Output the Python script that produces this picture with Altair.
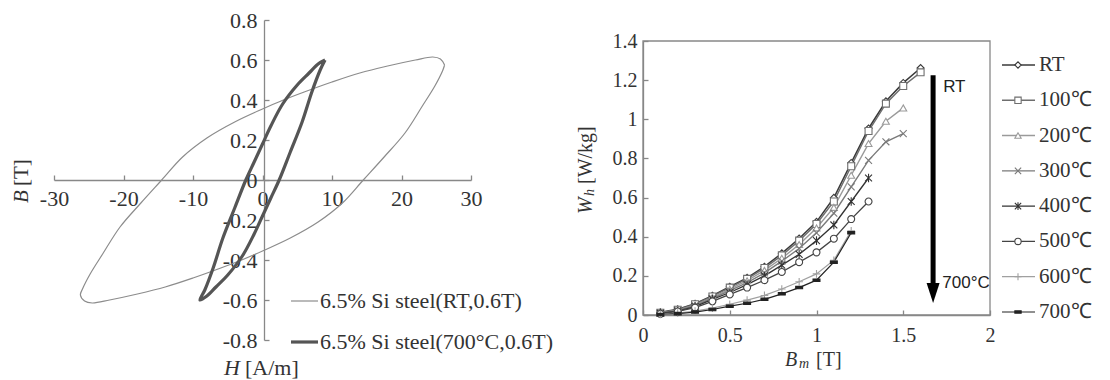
import altair as alt
import pandas as pd

# ---------------- left panel: B-H hysteresis loops ----------------
loop_names = ["6.5% Si steel(RT,0.6T)", "6.5% Si steel(700°C,0.6T)"]
rt_H = [26.2, 25.6, 24.5, 22.0, 18.0, 14.0, 10.0, 6.0, 3.0, 0.0, -4.0, -8.0, -11.5, -14.5, -17.5, -20.5, -23.0, -24.8, -25.9,
        -26.2, -25.6, -24.5, -22.0, -18.0, -14.0, -10.0, -6.0, -3.0, 0.0, 4.0, 8.0, 11.5, 14.5, 17.5, 20.5, 23.0, 24.8, 25.9, 26.2]
rt_B = [0.575, 0.605, 0.615, 0.60, 0.57, 0.535, 0.49, 0.44, 0.40, 0.355, 0.29, 0.21, 0.115, 0.0, -0.115, -0.235, -0.37, -0.47, -0.545,
        -0.575, -0.605, -0.615, -0.60, -0.57, -0.535, -0.49, -0.44, -0.40, -0.355, -0.29, -0.21, -0.115, 0.0, 0.115, 0.235, 0.37, 0.47, 0.545, 0.575]
t700_H = [9.0, 8.0, 6.7, 5.0, 2.9, 1.2, 0.0, -1.2, -2.4, -4.0, -5.7, -7.1, -8.3,
          -9.0, -8.0, -6.7, -5.0, -2.9, -1.2, 0.0, 1.2, 2.4, 4.0, 5.7, 7.1, 8.3, 9.0]
t700_B = [0.60, 0.58, 0.535, 0.475, 0.38, 0.27, 0.18, 0.09, 0.0, -0.14, -0.29, -0.44, -0.55,
          -0.60, -0.58, -0.535, -0.475, -0.38, -0.27, -0.18, -0.09, 0.0, 0.14, 0.29, 0.44, 0.55, 0.60]
h_ticks = [-30, -20, -10, 0, 10, 20, 30]
b_ticks = [-0.8, -0.6, -0.4, -0.2, 0, 0.2, 0.4, 0.6, 0.8]

# ---------------- right panel: hysteresis loss vs Bm ----------------
series = ["RT", "100℃", "200℃", "300℃", "400℃", "500℃", "600℃", "700℃"]
bm = [0.1, 0.2, 0.3, 0.4, 0.5, 0.6, 0.7, 0.8, 0.9, 1.0, 1.1, 1.2, 1.3, 1.4, 1.5, 1.6]
wh_rt = [0.014, 0.029, 0.058, 0.099, 0.145, 0.19, 0.247, 0.315, 0.391, 0.476, 0.599, 0.777, 0.953, 1.092, 1.186, 1.262]
wh_100 = [0.012, 0.027, 0.055, 0.095, 0.14, 0.185, 0.24, 0.305, 0.38, 0.465, 0.58, 0.76, 0.94, 1.08, 1.17, 1.24]
wh_200 = [0.01, 0.025, 0.05, 0.09, 0.132, 0.175, 0.228, 0.29, 0.36, 0.445, 0.55, 0.714, 0.876, 0.99, 1.058]
wh_300 = [0.01, 0.024, 0.048, 0.085, 0.125, 0.165, 0.215, 0.275, 0.34, 0.42, 0.52, 0.655, 0.79, 0.885, 0.927]
wh_400 = [0.009, 0.02, 0.043, 0.08, 0.115, 0.155, 0.2, 0.255, 0.31, 0.38, 0.46, 0.58, 0.70]
wh_500 = [0.006, 0.018, 0.038, 0.07, 0.105, 0.14, 0.178, 0.22, 0.27, 0.32, 0.39, 0.49, 0.58]
wh_600 = [0.003, 0.01, 0.02, 0.035, 0.055, 0.076, 0.1, 0.133, 0.17, 0.21, 0.28, 0.43]
wh_700 = [0.002, 0.007, 0.015, 0.028, 0.045, 0.06, 0.08, 0.108, 0.14, 0.178, 0.27, 0.42]
bm_ticks = [0, 0.5, 1, 1.5, 2]
wh_ticks = [0, 0.2, 0.4, 0.6, 0.8, 1, 1.2, 1.4]
arrow_x = 1.672
arrow_top = 1.225
arrow_bottom = 0.15
arrow_head = 0.112
ann_text = ["RT", "700°C"]
ann_x = [1.73, 1.725]
ann_y = [1.165, 0.165]

# ---------------- styles ----------------
SERIF = "Liberation Serif"
TXT = "#333333"
AX = "#888888"
loop_colors = ["#8c8c8c", "#555555"]
loop_widths = [1.2, 3.2]
ser_colors = ["#3a3a3a", "#6e6e6e", "#9a9a9a", "#7a7a7a", "#333333", "#444444", "#a0a0a0", "#222222"]
ser_widths = [1.5, 1.2, 1.0, 1.0, 1.5, 1.2, 1.0, 2.0]
ser_shapes = ["diamond", "square", "triangle-up",
              "M-1,-1L1,1M-1,1L1,-1",
              "M-1,-1L1,1M-1,1L1,-1M0,-1.25L0,1.25",
              "circle",
              "M-1.1,0L1.1,0M0,-1.1L0,1.1",
              "M-1,-0.35L1,-0.35L1,0.35L-1,0.35Z"]
ser_fills = ["white", "white", "white", "white", "white", "white", "white", "#222222"]

# ---------------- data tables ----------------
rows = []
for name, hs, bs in [(loop_names[0], rt_H, rt_B), (loop_names[1], t700_H, t700_B)]:
    for i, (h, b) in enumerate(zip(hs, bs)):
        rows.append({"series": name, "H": h, "B": b, "idx": i})
loops = pd.DataFrame(rows)

wh_all = [wh_rt, wh_100, wh_200, wh_300, wh_400, wh_500, wh_600, wh_700]
rows = []
for name, vals in zip(series, wh_all):
    for b, w in zip(bm, vals):
        rows.append({"series": name, "Bm": b, "Wh": w})
wh = pd.DataFrame(rows)

# ---------------- scales ----------------
XL = alt.Scale(domain=[-30, 30], range=[54, 471], nice=False, zero=False)
YL = alt.Scale(domain=[-0.8, 0.8], range=[340, 20], nice=False, zero=False)
XR = alt.Scale(domain=[0, 2], range=[643, 990], nice=False, zero=False)
YR = alt.Scale(domain=[0, 1.4], range=[315, 41], nice=False, zero=False)
loop_color = alt.Scale(domain=loop_names, range=loop_colors)
loop_width = alt.Scale(domain=loop_names, range=loop_widths)
s_color = alt.Scale(domain=series, range=ser_colors)
s_width = alt.Scale(domain=series, range=ser_widths)
s_shape = alt.Scale(domain=series, range=ser_shapes)
s_fill = alt.Scale(domain=series, range=ser_fills)

MINUS = "replace(format(datum.value, '{f}'), '\u2212', '-')"


def axis(**kw):
    return alt.Axis(grid=False, title=None, domainColor=AX, domainWidth=1.3, tickColor=AX,
                    tickWidth=1.3, tickSize=5, labelFont=SERIF, labelColor=TXT,
                    labelOverlap=False, labelFlush=False, **kw)


def label(text, x, y, size, italic=False, angle=0, font=SERIF, color=TXT):
    return alt.Chart(pd.DataFrame({"t": [text]})).mark_text(
        align="left", baseline="middle", font=font, fontSize=size,
        fontStyle="italic" if italic else "normal", angle=angle, color=color
    ).encode(x=alt.value(x), y=alt.value(y), text="t:N")


def xr(field=None, datum=None):
    if field is not None:
        return alt.X(field, type="quantitative", scale=XR, axis=None)
    return alt.X(datum=datum, type="quantitative", scale=XR, axis=None)


def yr(field=None, datum=None):
    if field is not None:
        return alt.Y(field, type="quantitative", scale=YR, axis=None)
    return alt.Y(datum=datum, type="quantitative", scale=YR, axis=None)


# ---------------- left panel ----------------
left_lines = alt.Chart(loops).mark_line(interpolate="catmull-rom").encode(
    x=alt.X("H:Q", scale=XL, axis=axis(orient="top", offset=-180, values=h_ticks,
                                        labelBaseline="top", labelAlign="center",
                                        labelPadding=-13, labelFontSize=22,
                                        labelExpr=MINUS.format(f="d"))),
    y=alt.Y("B:Q", scale=YL, axis=axis(orient="right", offset=-846, values=b_ticks,
                                        labelAlign="right", labelPadding=-12, labelFontSize=22,
                                        labelExpr="datum.value == 0 ? '0' : " + MINUS.format(f=".1f"))),
    order="idx:Q",
    color=alt.Color("series:N", scale=loop_color, legend=None),
    strokeWidth=alt.StrokeWidth("series:N", scale=loop_width, legend=None),
)

lleg_df = pd.DataFrame({"series": loop_names})
lleg_y = alt.Y("series:N", scale=alt.Scale(type="point", domain=loop_names, range=[301, 342], padding=0), axis=None)
lleg_rule = alt.Chart(lleg_df).mark_rule().encode(
    x=alt.value(291), x2=alt.value(318), y=lleg_y,
    color=alt.Color("series:N", scale=loop_color, legend=None),
    strokeWidth=alt.StrokeWidth("series:N", scale=loop_width, legend=None))
lleg_text = alt.Chart(lleg_df).mark_text(align="left", baseline="middle", font=SERIF, fontSize=22, color=TXT).encode(
    x=alt.value(320), y=lleg_y, text="series:N")

# ---------------- right panel ----------------
right_lines = alt.Chart(wh).mark_line().encode(
    x=alt.X("Bm:Q", scale=XR, axis=axis(orient="top", offset=-315, values=bm_ticks,
                                         labelBaseline="top", labelAlign="center",
                                         labelPadding=-15, labelFontSize=20,
                                         labelExpr="format(datum.value, '~g')")),
    y=alt.Y("Wh:Q", scale=YR, axis=axis(orient="right", offset=-467, values=wh_ticks,
                                         labelAlign="right", labelPadding=-11, labelFontSize=20,
                                         labelExpr="format(datum.value, '~g')")),
    color=alt.Color("series:N", scale=s_color, legend=None),
    strokeWidth=alt.StrokeWidth("series:N", scale=s_width, legend=None),
)
frame = alt.Chart(pd.DataFrame({"f": [0]})).mark_rect(fillOpacity=0, stroke=AX, strokeWidth=1.3).encode(
    x=xr(datum=bm_ticks[0]), x2=alt.X2(datum=bm_ticks[-1]),
    y=yr(datum=wh_ticks[0]), y2=alt.Y2(datum=wh_ticks[-1]),
)
right_points = alt.Chart(wh).mark_point(opacity=1, fillOpacity=1, strokeWidth=1.1, size=48).encode(
    x=xr("Bm"), y=yr("Wh"),
    shape=alt.Shape("series:N", scale=s_shape, legend=None),
    stroke=alt.Stroke("series:N", scale=s_color, legend=None),
    fill=alt.Fill("series:N", scale=s_fill, legend=None),
)
arrow = alt.Chart(pd.DataFrame({"a": [0]})).mark_rule(color="black", strokeWidth=5).encode(
    x=xr(datum=arrow_x), y=yr(datum=arrow_top), y2=alt.Y2(datum=arrow_bottom),
)
arrow_tip = alt.Chart(pd.DataFrame({"a": [0]})).mark_point(
    shape="M-0.65,-1L0.65,-1L0,1Z", filled=True, color="black", opacity=1, size=400).encode(
    x=xr(datum=arrow_x), y=yr(datum=arrow_head),
)
ann = alt.Chart(pd.DataFrame({"t": ann_text, "x": ann_x, "y": ann_y})).mark_text(
    align="left", baseline="middle", font="Liberation Sans", fontSize=17, color="#222").encode(
    x=xr("x"), y=yr("y"), text="t:N")

rleg_df = pd.DataFrame({"series": series})
rleg_y = alt.Y("series:N", scale=alt.Scale(type="point", domain=series, range=[65, 312], padding=0), axis=None)
rleg_rule = alt.Chart(rleg_df).mark_rule().encode(
    x=alt.value(1002), x2=alt.value(1035), y=rleg_y,
    color=alt.Color("series:N", scale=s_color, legend=None),
    strokeWidth=alt.StrokeWidth("series:N", scale=s_width, legend=None))
rleg_point = alt.Chart(rleg_df).mark_point(opacity=1, fillOpacity=1, strokeWidth=1.1, size=40).encode(
    x=alt.value(1018), y=rleg_y,
    shape=alt.Shape("series:N", scale=s_shape, legend=None),
    stroke=alt.Stroke("series:N", scale=s_color, legend=None),
    fill=alt.Fill("series:N", scale=s_fill, legend=None))
rleg_text = alt.Chart(rleg_df).mark_text(align="left", baseline="middle", font=SERIF, fontSize=21, color=TXT).encode(
    x=alt.value(1039), y=rleg_y, text="series:N")

titles = [
    label("B", 22, 203, 21, italic=True, angle=270),
    label("[T]", 22, 186, 21, angle=270),
    label("H", 224, 368, 22, italic=True),
    label("[A/m]", 245, 368, 22),
    label("W", 586, 214, 20, italic=True, angle=270),
    label("h", 590, 196, 14, italic=True, angle=270),
    label("[W/kg]", 586, 184, 20, angle=270),
    label("B", 785, 360, 20, italic=True),
    label("m", 799, 364, 14, italic=True),
    label("[T]", 816, 360, 20),
]

chart = alt.layer(
    left_lines, lleg_rule, lleg_text,
    right_lines, frame, right_points, arrow, arrow_tip, ann,
    rleg_rule, rleg_point, rleg_text, *titles
).resolve_scale(
    x="independent", y="independent", color="independent", strokeWidth="independent",
    shape="independent", stroke="independent", fill="independent",
).properties(
    width=1110, height=380, padding=0, autosize=alt.AutoSizeParams(type="none"),
    background="white",
).configure_view(stroke=None)

chart.save("out.html", embed_options={"renderer": "svg", "actions": False})
